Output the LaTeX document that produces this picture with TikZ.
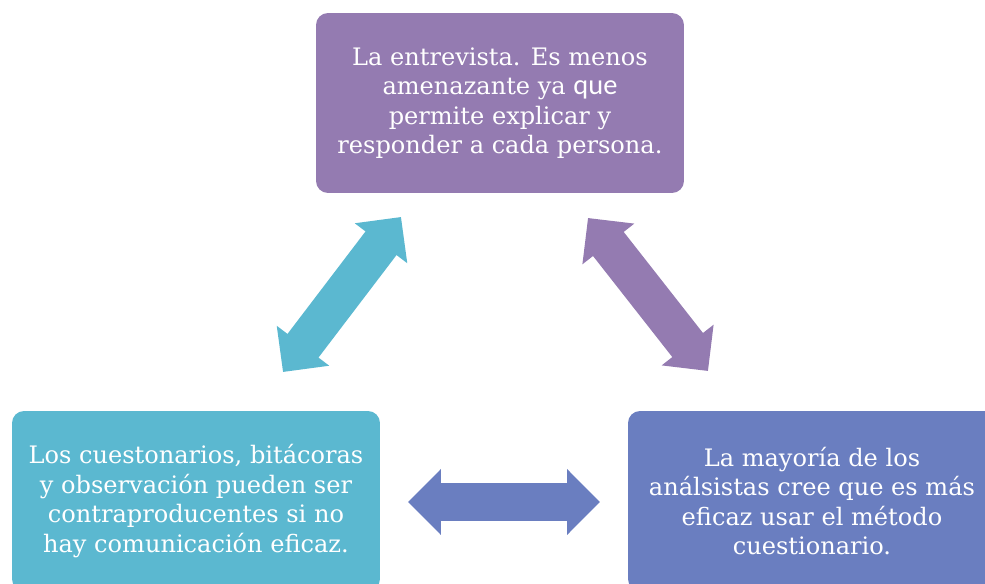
\documentclass[tikz,border=0pt]{standalone}
\usepackage{fontspec}
\setmainfont{DejaVu Serif}
\newfontfamily\quefont[Scale=1.18]{Carlito}
\usetikzlibrary{arrows.meta}

\begin{document}
\begin{tikzpicture}[x=0.02cm,y=-0.02cm,
  box/.style={rounded corners=0.24cm, text=white, align=center, inner sep=0pt,
    minimum width=7.36cm, minimum height=3.6cm, font=\fontsize{13.7}{16.8}\selectfont},
  blockarrow/.style={line width=0.78cm,
    {Triangle[length=0.66cm,width=1.28cm]}-{Triangle[length=0.66cm,width=1.28cm]}}]
\useasboundingbox (0,0) rectangle (985,584);

\definecolor{boxpurple}{RGB}{148,123,177}
\definecolor{boxcyan}{RGB}{91,184,208}
\definecolor{boxblue}{RGB}{106,126,192}

\node[box, fill=boxpurple] (entrevista) at (500,103)
  {La entrevista. Es menos\\ amenazante ya {\quefont que}\\ permite explicar y\\ responder a cada persona.};
\node[box, fill=boxcyan] (cuestionarios) at (196,501)
  {Los cuestonarios, bitácoras\\ y observación pueden ser\\ contraproducentes si no\\ hay comunicación eficaz.};
\node[box, fill=boxblue] (mayoria) at (812,501)
  {La mayoría de los\\ análsistas cree que es más\\ eficaz usar el método\\ cuestionario.};

\coordinate (A_top) at (401,217);
\coordinate (A_bot) at (283,372);
\coordinate (B_top) at (588,218);
\coordinate (B_bot) at (708,371);
\coordinate (C_left) at (408,502);
\coordinate (C_right) at (600,502);
\draw[blockarrow, draw=boxcyan, fill=boxcyan] (A_bot) -- (A_top);
\draw[blockarrow, draw=boxpurple, fill=boxpurple] (B_top) -- (B_bot);
\draw[blockarrow, draw=boxblue, fill=boxblue] (C_left) -- (C_right);
\end{tikzpicture}
\end{document}
